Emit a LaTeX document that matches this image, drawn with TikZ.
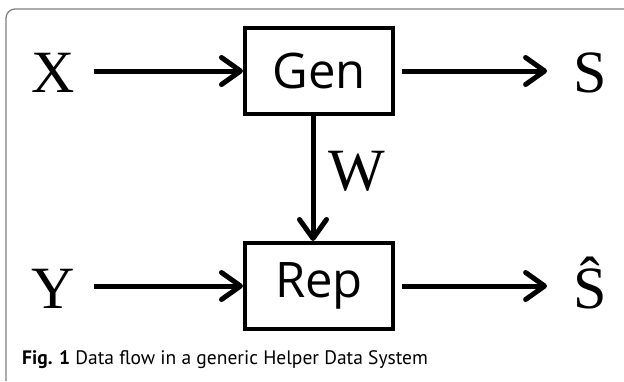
\documentclass[tikz,border=0pt]{standalone}
\usepackage{fontspec}
\setmainfont{Liberation Serif}
\newfontfamily\blockfont{Open Sans}
\newfontfamily\captionfont{PT Sans}
\usetikzlibrary{arrows.meta}
\tikzset{flow/.style={line width=5pt, -{Straight Barb[length=19pt,width=27pt,round]}},
  block/.style={draw, line width=4pt, minimum width=148pt, minimum height=86pt,
    inner sep=0pt, font=\blockfont\fontsize{49}{50}\selectfont},
  letter/.style={inner sep=0pt, anchor=base, font=\fontsize{60}{60}\selectfont}}

\begin{document}
\begin{tikzpicture}[x=1pt, y=-1pt]
  \useasboundingbox (0,0) rectangle (624,381);
  \draw[gray, line width=1.3pt, rounded corners=9pt] (624,9) -- (6,9) -- (6,381); % frame
  \node[block] (gen) at (319,71) {Gen};
  \node[block] (rep) at (319,286) {Rep};
  \node[letter] (x) at (53,92) {X};
  \node[letter] (s) at (590,92) {S};
  \node[letter] (y) at (53,308) {Y};
  \node[letter] (sh) at (590,308) {Ŝ};
  \node[letter] (w) at (357,190) {W};
  \draw[flow, shorten <=19pt] (x.east |- gen) -- (gen);
  \draw[flow, shorten <=7pt, shorten >=26pt] (gen) -- (s.west |- gen);
  \draw[flow, shorten <=19pt] (y.east |- rep) -- (rep);
  \draw[flow, shorten <=7pt, shorten >=26pt] (rep) -- (sh.west |- rep);
  \draw[flow] ([xshift=-6pt]gen.south) -- ([xshift=-6pt]rep.north);
  \node[anchor=base west, inner sep=0pt, font=\captionfont\fontsize{19.5}{20}\selectfont]
    (cap) at (22,364) {\textbf{Fig. 1} Data flow in a generic Helper Data System};
\end{tikzpicture}
\end{document}
